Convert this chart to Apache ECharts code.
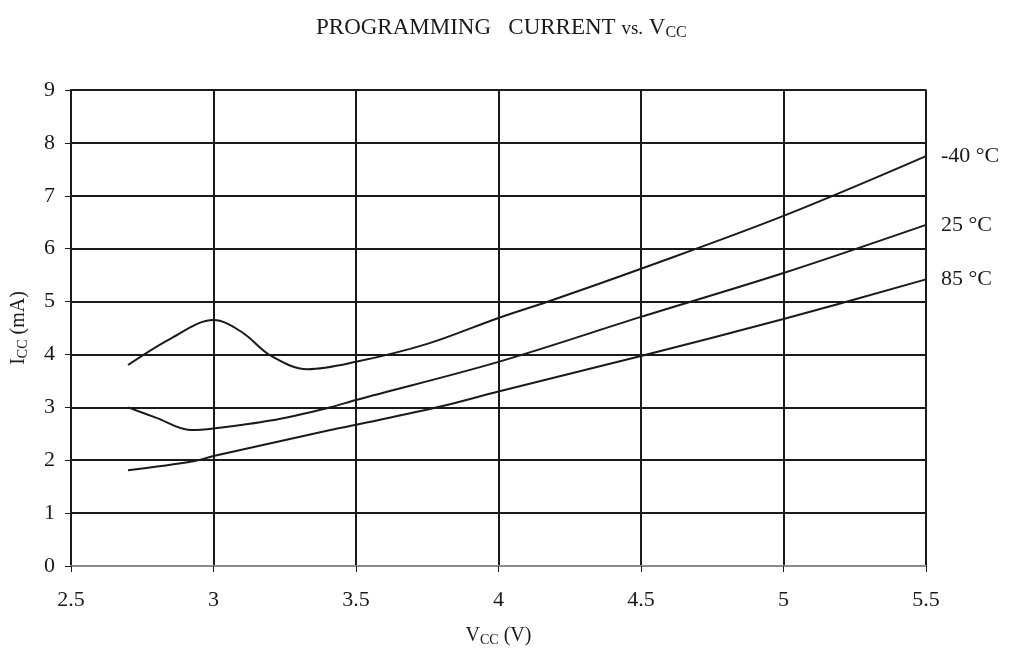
<!DOCTYPE html>
<html>
<head>
<meta charset="utf-8">
<script src="https://cdn.jsdelivr.net/npm/echarts@6/dist/echarts.min.js"></script>
<style>
  html, body { margin: 0; padding: 0; background: #fff; }
  #chart { width: 1015px; height: 655px; }
</style>
</head>
<body>
<div id="chart"></div>
<script>
// supply voltage (V) and current (mA)
const vccM40 = [2.7, 2.85, 3.0, 3.1, 3.2, 3.33, 3.5, 3.75, 4.0, 4.19, 4.5, 5.0, 5.5];
const iccM40 = [3.8, 4.3, 4.65, 4.42, 3.98, 3.72, 3.86, 4.2, 4.69, 5.03, 5.62, 6.62, 7.75];

const vcc25 = [2.7, 2.8, 2.92, 3.0, 3.2, 3.41, 3.5, 4.0, 4.5, 5.0, 5.5];
const icc25 = [3.0, 2.8, 2.57, 2.6, 2.75, 3.0, 3.14, 3.86, 4.71, 5.54, 6.45];

const vcc85 = [2.7, 2.93, 3.0, 3.41, 3.5, 3.8, 4.0, 4.5, 5.0, 5.5];
const icc85 = [1.81, 1.98, 2.08, 2.57, 2.67, 3.02, 3.3, 3.97, 4.67, 5.42];

const seriesNames = ["-40 °C", "25 °C", "85 °C"];

const FONT = "Liberation Serif";
const INK = "#1a1a1a";
const pairs = (xs, ys) => xs.map((x, i) => [x, ys[i]]);

const chart = echarts.init(document.getElementById("chart"));

function curve(name, data) {
  return {
    name: name,
    type: "line",
    data: data,
    smooth: 0.35,
    showSymbol: false,
    lineStyle: { color: INK, width: 2 },
    endLabel: {
      show: true,
      formatter: "{a}",
      distance: 15,
      color: INK,
      fontFamily: FONT,
      fontSize: 22,
    },
    z: 5,
  };
}

// subscript style used by title and axis names
const sub = (size, drop) => ({
  fontFamily: FONT,
  fontSize: size,
  color: INK,
  lineHeight: size - drop,
  padding: [drop * 2, 0, 0, 0],
});

const option = {
  backgroundColor: "#fff",
  animation: false,
  title: {
    text: "PROGRAMMING   CURRENT {s|vs.} V{sub|CC}",
    left: 311,
    top: 11,
    textStyle: {
      fontFamily: FONT,
      fontSize: 23,
      fontWeight: "normal",
      color: INK,
      rich: {
        s: { fontFamily: FONT, fontSize: 19, color: INK, padding: [3, 0, 0, 0] },
        sub: sub(16, 5),
      },
    },
  },
  grid: {
    left: 69,
    right: 89,
    top: 90,
    bottom: 89,
    show: true,
    borderColor: "#8c8c8c",
    borderWidth: 2,
  },
  xAxis: {
    type: "value",
    min: 2.5,
    max: 5.5,
    interval: 0.5,
    name: "V{sub|CC} (V)",
    nameLocation: "middle",
    nameGap: 60,
    nameTextStyle: {
      fontFamily: FONT,
      fontSize: 20,
      color: INK,
      rich: { sub: sub(14, 4) },
    },
    axisLine: { show: true, lineStyle: { color: "#8c8c8c", width: 2 } },
    axisTick: { show: true, inside: false, length: 6, lineStyle: { color: INK, width: 1 } },
    axisLabel: { margin: 23, fontFamily: FONT, fontSize: 22, color: INK },
    splitLine: { show: true, lineStyle: { color: INK, width: 2 } },
  },
  yAxis: {
    type: "value",
    min: 0,
    max: 9,
    interval: 1,
    name: "I{sub|CC} (mA)",
    nameLocation: "middle",
    nameGap: 42,
    nameTextStyle: {
      fontFamily: FONT,
      fontSize: 20,
      color: INK,
      rich: { sub: sub(14, 4) },
    },
    axisLine: { show: true, lineStyle: { color: INK, width: 2 } },
    axisTick: { show: true, inside: false, length: 6, lineStyle: { color: INK, width: 1 } },
    axisLabel: { margin: 16, fontFamily: FONT, fontSize: 22, color: INK },
    splitLine: { show: true, lineStyle: { color: INK, width: 2 } },
  },
  series: [
    curve(seriesNames[0], pairs(vccM40, iccM40)),
    curve(seriesNames[1], pairs(vcc25, icc25)),
    curve(seriesNames[2], pairs(vcc85, icc85)),
  ],
};

chart.setOption(option);
</script>
</body>
</html>
